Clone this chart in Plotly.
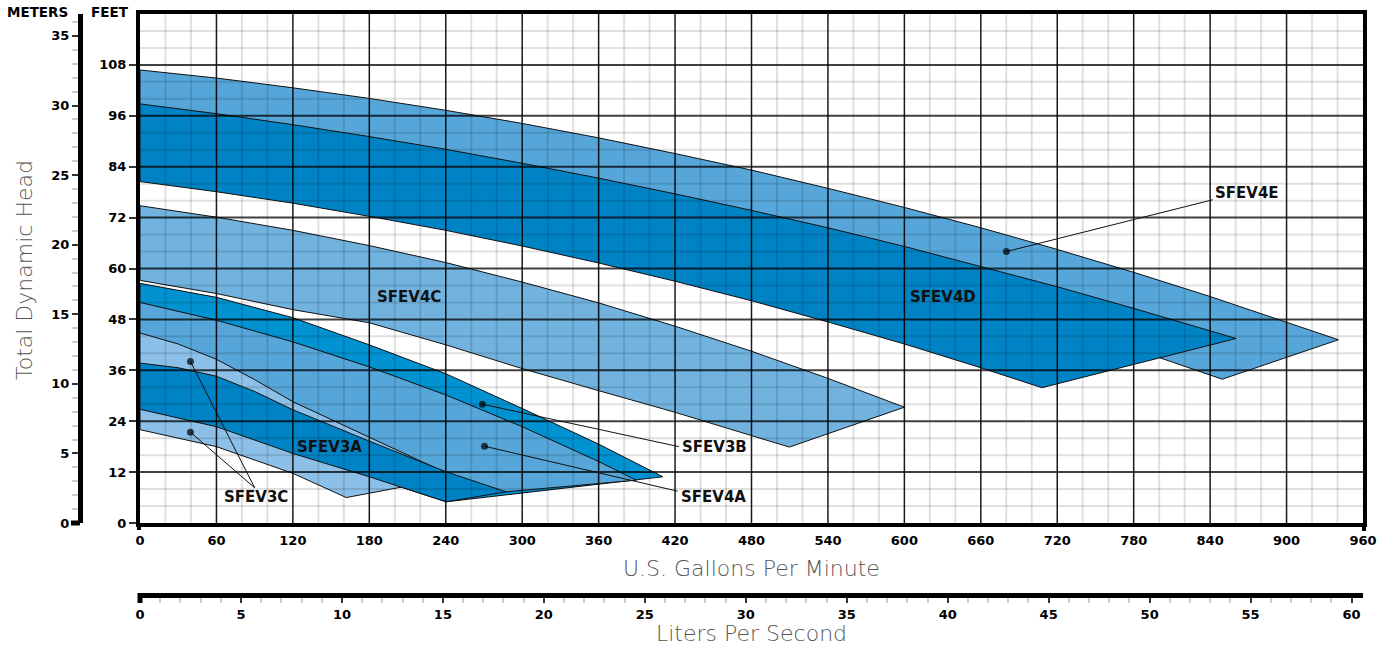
import plotly.graph_objects as go

W, H = 1388, 646
GPM_MAX = 960
FT_MAX = 120
FT_PER_M = 3.28084
GPM_PER_LPS = 15.8503

# ---------------- data (gpm, feet) ----------------
sfev4e_top_gpm = [0, 60, 120, 180, 240, 300, 360, 420, 480, 540, 600, 660, 720, 780, 840, 900, 940.7]
sfev4e_top_ft = [106.8, 104.9, 102.6, 100.1, 97.3, 94.2, 90.8, 87.1, 83.2, 78.9, 74.4, 69.6, 64.5, 59.1, 53.4, 47.4, 43.2]
sfev4e_bot_gpm = [0, 240, 420, 600, 780, 801, 849.5]
sfev4e_bot_ft = [88.0, 78.0, 68.0, 56.0, 41.5, 38.9, 33.9]

sfev4d_top_gpm = [0, 60, 120, 180, 240, 300, 360, 420, 480, 540, 600, 660, 720, 780, 840, 860.4]
sfev4d_top_ft = [98.8, 96.5, 93.9, 91.1, 88.1, 84.8, 81.3, 77.6, 73.7, 69.6, 65.2, 60.5, 55.7, 50.6, 45.3, 43.5]
sfev4d_bot_gpm = [0, 60, 120, 180, 240, 300, 360, 420, 480, 540, 600, 660, 707.9, 860.4]
sfev4d_bot_ft = [80.5, 78.1, 75.4, 72.3, 69.0, 65.3, 61.3, 57.0, 52.4, 47.4, 42.2, 36.6, 31.9, 43.5]

sfev4c_top_gpm = [0, 60, 120, 180, 240, 300, 360, 420, 480, 540, 600]
sfev4c_top_ft = [74.8, 72.1, 69.0, 65.4, 61.4, 56.8, 51.9, 46.4, 40.5, 34.1, 27.3]
sfev4c_bot_gpm = [0, 60, 120, 180, 240, 300, 360, 420, 480, 509.8, 600]
sfev4c_bot_ft = [57.2, 54.1, 50.3, 47.2, 42.0, 36.4, 31.2, 26.1, 20.6, 17.9, 27.3]

sfev3b_top_gpm = [0, 60, 120, 180, 240, 300, 360, 410.4]
sfev3b_top_ft = [56.5, 53.2, 48.4, 42.0, 35.2, 27.0, 18.6, 10.9]
sfev3b_bot_gpm = [0, 60, 120, 180, 240.3, 410.4]
sfev3b_bot_ft = [26.8, 22.7, 16.4, 10.9, 5.0, 10.9]

sfev4a_top_gpm = [0, 60, 120, 180, 240, 300, 360, 389.5]
sfev4a_top_ft = [52.0, 47.8, 42.7, 36.8, 30.2, 22.7, 14.5, 10.1]
sfev4a_bot_gpm = [0, 120, 240, 287.4, 389.5]
sfev4a_bot_ft = [40.0, 25.0, 10.0, 7.35, 10.1]

sfev3c_top_gpm = [0, 30, 60, 90, 120, 180, 236]
sfev3c_top_ft = [44.8, 42.2, 38.6, 33.8, 28.6, 20.3, 12.4]
sfev3c_bot_gpm = [0, 60, 120, 161.9, 236]
sfev3c_bot_ft = [22.0, 18.0, 11.7, 6.0, 10.2]

sfev3a_top_gpm = [0, 30, 60, 90, 120, 180, 240, 287.4]
sfev3a_top_ft = [37.7, 36.6, 34.6, 31.0, 26.7, 19.3, 12.1, 7.35]
sfev3a_bot_gpm = [0, 60, 120, 180, 240.3]
sfev3a_bot_ft = [26.8, 22.7, 16.4, 10.9, 5.0]

# region names, label positions (gpm, ft) and leader lines (dot first)
label_names = ["SFEV4C", "SFEV4D", "SFEV4E", "SFEV3A", "SFEV3C", "SFEV3B", "SFEV4A"]
label_gpm = [211.5, 630.7, 869.3, 148.7, 90.7, 451.0, 450.5]
label_ft = [53.4, 53.4, 77.9, 17.9, 6.1, 17.9, 6.1]

leader_4e_gpm, leader_4e_ft = [680.1, 842.0], [64.0, 76.2]
leader_3b_gpm, leader_3b_ft = [268.8, 423.0], [28.0, 18.0]
leader_4a_gpm, leader_4a_ft = [270.4, 422.0], [18.1, 7.5]
leader_3c1_gpm, leader_3c1_ft = [39.6, 90.0], [38.1, 8.3]
leader_3c2_gpm, leader_3c2_ft = [39.6, 90.0], [21.4, 8.3]

gpm_ticks = list(range(0, 961, 60))
ft_ticks = list(range(0, 109, 12))
m_ticks = list(range(0, 36, 5))
lps_ticks = list(range(0, 61, 5))
gpm_minor = [v for v in range(20, 960, 20) if v % 60]
ft_minor = [v for v in range(4, 120, 4) if v % 12]

# ---------------- colours ----------------
C_4E = "#56a6d9"
C_4D = "#0083c5"
C_4C = "#71b2df"
C_3B = "#0092d1"
C_4A = "#56a6d9"
C_3C = "#8dc0e8"
C_3A = "#0083c5"

regions = [
    (sfev4e_top_gpm, sfev4e_top_ft, sfev4e_bot_gpm, sfev4e_bot_ft, C_4E),
    (sfev4d_top_gpm, sfev4d_top_ft, sfev4d_bot_gpm, sfev4d_bot_ft, C_4D),
    (sfev4c_top_gpm, sfev4c_top_ft, sfev4c_bot_gpm, sfev4c_bot_ft, C_4C),
    (sfev3b_top_gpm, sfev3b_top_ft, sfev3b_bot_gpm, sfev3b_bot_ft, C_3B),
    (sfev4a_top_gpm, sfev4a_top_ft, sfev4a_bot_gpm, sfev4a_bot_ft, C_4A),
    (sfev3c_top_gpm, sfev3c_top_ft, sfev3c_bot_gpm, sfev3c_bot_ft, C_3C),
    (sfev3a_top_gpm, sfev3a_top_ft, sfev3a_bot_gpm, sfev3a_bot_ft, C_3A),
]

fig = go.Figure()

for tx, ty, bx, by, col in regions:
    xs = list(tx) + list(reversed(bx)) + [tx[0]]
    ys = list(ty) + list(reversed(by)) + [ty[0]]
    fig.add_trace(go.Scatter(x=xs, y=ys, mode="lines", fill="toself", fillcolor=col,
                             line=dict(color="#111111", width=1), hoverinfo="skip",
                             showlegend=False))

# grid drawn over the fills (semi-transparent, like the original)
def vlines(vals):
    xs, ys = [], []
    for v in vals:
        xs += [v, v, None]
        ys += [0, FT_MAX, None]
    return xs, ys

def hlines(vals):
    xs, ys = [], []
    for v in vals:
        xs += [0, GPM_MAX, None]
        ys += [v, v, None]
    return xs, ys

for (xs, ys), col, wd in [
    (vlines(gpm_minor), "rgba(0,0,0,0.12)", 2),
    (hlines(ft_minor), "rgba(0,0,0,0.12)", 2),
    (vlines(gpm_ticks[1:-1]), "rgba(0,0,0,0.9)", 1.5),
    (hlines(ft_ticks[1:]), "rgba(0,0,0,0.75)", 2),
]:
    fig.add_trace(go.Scatter(x=xs, y=ys, mode="lines", line=dict(color=col, width=wd),
                             hoverinfo="skip", showlegend=False, connectgaps=False))

# leader lines
for lx, ly in [(leader_4e_gpm, leader_4e_ft), (leader_3b_gpm, leader_3b_ft),
               (leader_4a_gpm, leader_4a_ft), (leader_3c1_gpm, leader_3c1_ft),
               (leader_3c2_gpm, leader_3c2_ft)]:
    fig.add_trace(go.Scatter(x=lx, y=ly, mode="lines+markers",
                             line=dict(color="#111111", width=1),
                             marker=dict(size=[7, 0], color="#000000", line=dict(width=0)),
                             hoverinfo="skip", showlegend=False))

# dummy traces so the secondary axes are drawn
fig.add_trace(go.Scatter(x=[0], y=[0], xaxis="x2", yaxis="y", mode="markers",
                         marker=dict(opacity=0), hoverinfo="skip", showlegend=False))
fig.add_trace(go.Scatter(x=[0], y=[0], xaxis="x", yaxis="y2", mode="markers",
                         marker=dict(opacity=0), hoverinfo="skip", showlegend=False))

TICKFONT = dict(family="DejaVu Sans", size=13, color="black", weight="bold")
TITLEFONT = dict(family="DejaVu Sans", size=22, color="#555555", weight=300)
HEADFONT = dict(family="DejaVu Sans", size=13.5, color="black", weight="bold")

annotations = []
for name, gx, gy in zip(label_names, label_gpm, label_ft):
    annotations.append(dict(x=gx, y=gy, xref="x", yref="y", text=name, showarrow=False,
                            xanchor="center", yanchor="middle",
                            font=dict(family="DejaVu Sans", size=15, color="#111111", weight="bold")))


def paper_text(px, py, text, font, angle=0):
    return dict(x=px / W, y=1 - py / H, xref="paper", yref="paper", text=text,
                showarrow=False, xanchor="center", yanchor="middle", textangle=angle, font=font)


annotations += [
    paper_text(751.5, 568, "U.S. Gallons Per Minute", TITLEFONT),
    paper_text(752, 633, "Liters Per Second", TITLEFONT),
    paper_text(25, 270, "Total Dynamic Head", TITLEFONT, -90),
    paper_text(37, 12, "METERS", HEADFONT),
    paper_text(110, 12, "FEET", HEADFONT),
]

# heavy "0" tick feet on the meters and L/s axes, and frame extensions below the x axis
shapes = [
    dict(type="line", xref="paper", yref="paper", x0=71 / W, x1=80 / W,
         y0=1 - 523 / H, y1=1 - 523 / H, line=dict(color="black", width=5)),
    dict(type="line", xref="paper", yref="paper", x0=140 / W, x1=140 / W,
         y0=1 - 593 / H, y1=1 - 603 / H, line=dict(color="black", width=5)),
    dict(type="line", xref="paper", yref="paper", x0=139 / W, x1=139 / W,
         y0=1 - 523 / H, y1=1 - 530 / H, line=dict(color="black", width=4)),
    dict(type="line", xref="paper", yref="paper", x0=1364 / W, x1=1364 / W,
         y0=1 - 523 / H, y1=1 - 531 / H, line=dict(color="black", width=4)),
]

fig.update_layout(
    width=W, height=H,
    margin=dict(l=0, r=0, t=0, b=0, pad=0, autoexpand=False),
    paper_bgcolor="white", plot_bgcolor="white",
    showlegend=False,
    xaxis=dict(domain=[140 / W, 1363 / W], range=[0, GPM_MAX], tickvals=gpm_ticks,
               showgrid=False, zeroline=False, showline=True, mirror=True,
               linewidth=4, linecolor="black", ticks="outside", ticklen=2,
               tickcolor="rgba(0,0,0,0)", tickfont=TICKFONT, layer="above traces",
               automargin=False),
    yaxis=dict(domain=[123 / H, 632 / H], range=[0, FT_MAX], tickvals=ft_ticks,
               showgrid=False, zeroline=False, showline=True, mirror=True,
               linewidth=4, linecolor="black", ticks="outside", ticklen=7, tickwidth=2,
               tickcolor="#333333", tickfont=TICKFONT, layer="above traces",
               automargin=False),
    xaxis2=dict(overlaying="x", anchor="free", position=1 - 595 / H, side="bottom",
                range=[0, GPM_MAX / GPM_PER_LPS], tickvals=lps_ticks,
                showgrid=False, zeroline=False, showline=True, linewidth=5, linecolor="black",
                ticks="outside", ticklen=5, tickwidth=2, tickcolor="#333333",
                minor=dict(dtick=1, ticks="outside", ticklen=5, tickwidth=2, tickcolor="#cccccc"),
                tickfont=TICKFONT, automargin=False),
    yaxis2=dict(overlaying="y", anchor="free", position=80 / W, side="left",
                range=[0, FT_MAX / FT_PER_M], tickvals=m_ticks,
                showgrid=False, zeroline=False, showline=True, linewidth=5, linecolor="black",
                ticks="outside", ticklen=6, tickwidth=2, tickcolor="#333333",
                minor=dict(dtick=1, ticks="outside", ticklen=6, tickwidth=2, tickcolor="#cccccc"),
                tickfont=TICKFONT, automargin=False),
    annotations=annotations,
    shapes=shapes,
)

fig.write_html("out.html", config={"displayModeBar": False},
               post_script="document.body.style.margin='0';document.body.style.overflow='hidden';")
